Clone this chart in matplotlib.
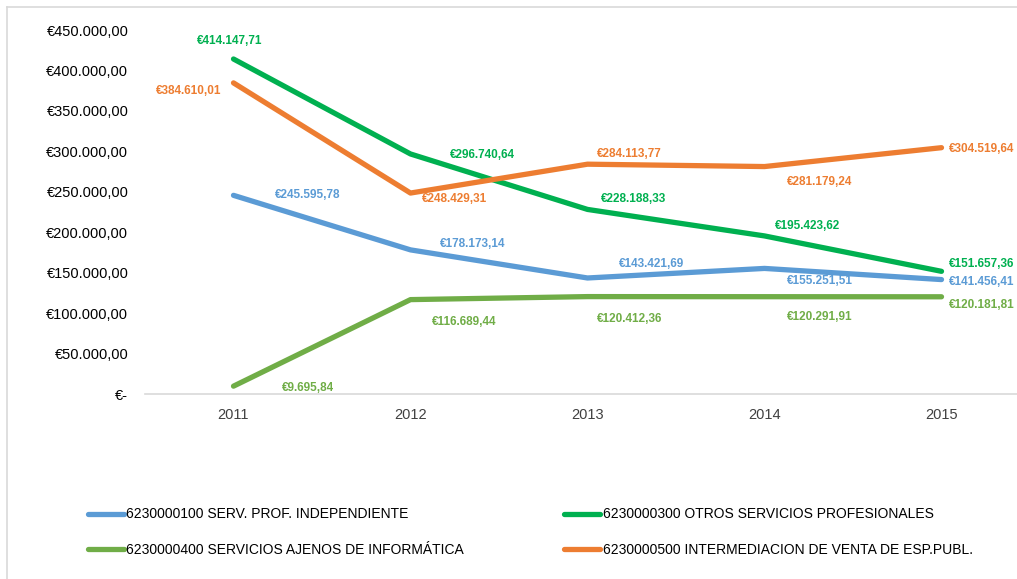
import matplotlib
matplotlib.use("Agg")
import matplotlib.pyplot as plt
from matplotlib.ticker import FuncFormatter, MultipleLocator
from matplotlib.lines import Line2D

plt.rcParams['font.family'] = ['Liberation Sans', 'DejaVu Sans']

years = ['2011', '2012', '2013', '2014', '2015']

names = ['6230000100 SERV. PROF. INDEPENDIENTE',
         '6230000300 OTROS SERVICIOS PROFESIONALES',
         '6230000400 SERVICIOS AJENOS DE INFORMÁTICA',
         '6230000500 INTERMEDIACION DE VENTA DE ESP.PUBL.']

serv_prof = [245595.78, 178173.14, 143421.69, 155251.51, 141456.41]
otros = [414147.71, 296740.64, 228188.33, 195423.62, 151657.36]
informatica = [9695.84, 116689.44, 120412.36, 120291.91, 120181.81]
intermediacion = [384610.01, 248429.31, 284113.77, 281179.24, 304519.64]

series = [serv_prof, otros, informatica, intermediacion]
colors = ['#5B9BD5', '#00B050', '#70AD47', '#ED7D31']

# label offsets in pixels (dx, dy) for each point
offsets = [
    [(74, 0), (62, 6), (64, 14), (55, -13), (40, -2)],
    [(-4, 18), (72, -1), (46, 10), (43, 10), (40, 7)],
    [(74, -2), (54, -22), (42, -22), (55, -20), (40, -8)],
    [(-45, -8), (44, -6), (42, 10), (55, -15), (40, -1)],
]


def euro(v, decimals=2):
    if v == 0:
        return '€-'
    s = f'{v:,.{decimals}f}'
    s = s.replace(',', 'X').replace('.', ',').replace('X', '.')
    return '€' + s


fig = plt.figure(figsize=(10.17, 5.79), dpi=100)
W, H = 1017, 579
ax = fig.add_axes([145 / W, 1 - 394 / H, (1030 - 145) / W, (394 - 30) / H])

x = list(range(len(years)))
for vals, col, offs in zip(series, colors, offsets):
    ax.plot(x, vals, color=col, lw=3.8, solid_capstyle='round')
    for xi, v, (dx, dy) in zip(x, vals, offs):
        ax.annotate(euro(v), (xi, v), xytext=(dx, dy), textcoords='offset pixels',
                    ha='center', va='center', color=col, fontsize=8.5,
                    fontweight='bold', annotation_clip=False)

ax.set_xlim(-0.5, 4.5)
ax.set_ylim(0, 450000)
ax.yaxis.set_major_locator(MultipleLocator(50000))
ax.yaxis.set_major_formatter(FuncFormatter(lambda v, p: euro(v)))
ax.set_xticks(x)
ax.set_xticklabels(years)
ax.tick_params(axis='both', length=0, labelsize=10.5, colors='#404040')
ax.tick_params(axis='y', pad=12, labelcolor='black')
ax.tick_params(axis='x', pad=10)
for side in ['top', 'right', 'left']:
    ax.spines[side].set_visible(False)
ax.spines['bottom'].set_color('#D9D9D9')
ax.spines['bottom'].set_linewidth(1.2)

# chart border (top and left)
fig.add_artist(Line2D([7 / W, 7 / W], [0, 1 - 7 / H], color='#D9D9D9', lw=1.2))
fig.add_artist(Line2D([7 / W, 1], [1 - 7 / H, 1 - 7 / H], color='#D9D9D9', lw=1.2))

# legend
order = [0, 2, 1, 3]
handles = [Line2D([0], [0], color=colors[i], lw=3.8, solid_capstyle='round') for i in order]
labels = [names[i] for i in order]
fig.legend(handles, labels, ncol=2, loc='upper left', bbox_to_anchor=(75 / W, 1 - 495 / H),
           frameon=False, fontsize=10, handlelength=2.6, handletextpad=0.2,
           columnspacing=7.2, labelspacing=1.55)

fig.savefig('out.png', dpi=100)
